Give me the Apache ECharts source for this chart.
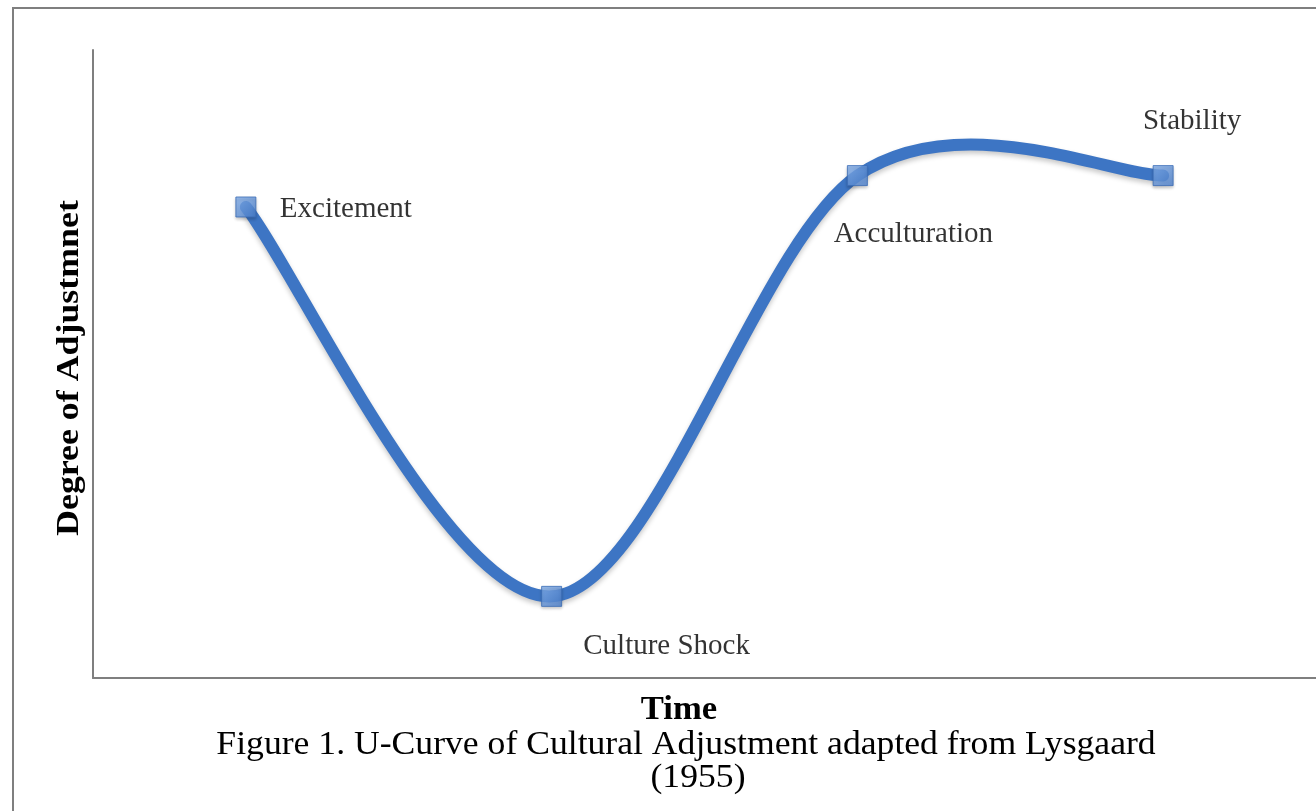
<!DOCTYPE html>
<html>
<head>
<meta charset="utf-8">
<title>U-Curve of Cultural Adjustment</title>
<script src="https://cdn.jsdelivr.net/npm/echarts@6/dist/echarts.min.js"></script>
<style>
  html, body { margin: 0; padding: 0; background: #fff; }
  #main { width: 1316px; height: 811px; }
</style>
</head>
<body>
<div id="main"></div>
<script>
// stages of the curve and their degree of adjustment (scale 0-10)
var stages = ['Excitement', 'Culture Shock', 'Acculturation', 'Stability'];
var adjustment = [7.5, 1.3, 8.0, 8.0];

var serif = '"Liberation Serif", "Times New Roman", serif';

// where each stage label sits relative to its marker
var labelOffsets = [[100, 2], [115, 50], [56, 59], [29, -54]];

var myChart = echarts.init(document.getElementById('main'));

// smooth curve like the spreadsheet one (catmull-rom through the points)
function curvePath(pts) {
    var d = 'M' + pts[0][0] + ' ' + pts[0][1];
    for (var i = 0; i < pts.length - 1; i++) {
        var p0 = pts[Math.max(i - 1, 0)];
        var p1 = pts[i];
        var p2 = pts[i + 1];
        var p3 = pts[Math.min(i + 2, pts.length - 1)];
        var c1x = p1[0] + (p2[0] - p0[0]) / 6, c1y = p1[1] + (p2[1] - p0[1]) / 6;
        var c2x = p2[0] - (p3[0] - p1[0]) / 6, c2y = p2[1] - (p3[1] - p1[1]) / 6;
        d += ' C' + c1x + ' ' + c1y + ' ' + c2x + ' ' + c2y + ' ' + p2[0] + ' ' + p2[1];
    }
    return d;
}

myChart.setOption({
    backgroundColor: '#fff',
    animation: false,
    grid: {
        left: 93,
        right: 0,
        top: 50,
        bottom: 133,
        outerBoundsMode: 'none'
    },
    xAxis: {
        type: 'category',
        data: stages,
        boundaryGap: true,
        axisLine: { lineStyle: { color: '#7f7f7f', width: 2 } },
        axisTick: { show: false },
        axisLabel: { show: false },
        splitLine: { show: false }
    },
    yAxis: {
        type: 'value',
        min: 0,
        max: 10,
        axisLine: { show: true, lineStyle: { color: '#7f7f7f', width: 2 } },
        axisTick: { show: false },
        axisLabel: { show: false },
        splitLine: { show: false }
    },
    graphic: [
        {
            type: 'rect',
            shape: { x: 13, y: 8, width: 1400, height: 900 },
            style: { fill: 'none', stroke: '#7f7f7f', lineWidth: 2 },
            silent: true
        },
        {
            // y axis title, stretched a little like the original
            type: 'text',
            x: 70, y: 368,
            rotation: Math.PI / 2,
            scaleX: 1.12,
            style: {
                text: 'Degree of Adjustmnet',
                fontFamily: serif, fontWeight: 'bold', fontSize: 32,
                fill: '#000', align: 'center', verticalAlign: 'middle'
            }
        },
        {
            type: 'text',
            x: 679, y: 710,
            scaleX: 1.05,
            style: {
                text: 'Time',
                fontFamily: serif, fontWeight: 'bold', fontSize: 33,
                fill: '#000', align: 'center', verticalAlign: 'middle'
            }
        },
        {
            type: 'text',
            x: 686, y: 745,
            scaleX: 1.08,
            style: {
                text: 'Figure 1. U-Curve of Cultural Adjustment adapted from Lysgaard',
                fontFamily: serif, fontSize: 33,
                fill: '#000', align: 'center', verticalAlign: 'middle'
            }
        },
        {
            type: 'text',
            x: 698, y: 778,
            scaleX: 1.08,
            style: {
                text: '(1955)',
                fontFamily: serif, fontSize: 33,
                fill: '#000', align: 'center', verticalAlign: 'middle'
            }
        }
    ],
    series: [
        {
            type: 'custom',
            z: 2,
            data: [0],
            renderItem: function (params, api) {
                var pts = adjustment.map(function (v, i) {
                    return api.coord([i, v]);
                });
                return {
                    type: 'path',
                    shape: { pathData: curvePath(pts) },
                    style: {
                        fill: 'none',
                        stroke: '#3d75c4',
                        lineWidth: 12,
                        lineCap: 'round',
                        shadowColor: 'rgba(0,0,0,0.22)',
                        shadowBlur: 5,
                        shadowOffsetY: 3
                    }
                };
            }
        },
        {
            type: 'scatter',
            z: 3,
            symbol: 'rect',
            symbolSize: 20,
            itemStyle: {
                color: new echarts.graphic.LinearGradient(0, 0, 1, 1, [
                    { offset: 0, color: '#86b3f0' },
                    { offset: 1, color: '#4a7fcd' }
                ]),
                borderColor: '#3a6cb5',
                borderWidth: 1,
                shadowColor: 'rgba(0,0,0,0.25)',
                shadowBlur: 3,
                shadowOffsetY: 2
            },
            data: adjustment.map(function (v, i) {
                return {
                    value: [i, v],
                    name: stages[i],
                    label: { offset: labelOffsets[i] }
                };
            }),
            label: {
                show: true,
                position: 'inside',
                formatter: '{b}',
                fontFamily: serif,
                fontSize: 29,
                color: '#000',
                textBorderWidth: 0,
                align: 'center',
                verticalAlign: 'middle'
            }
        }
    ]
});
</script>
</body>
</html>
